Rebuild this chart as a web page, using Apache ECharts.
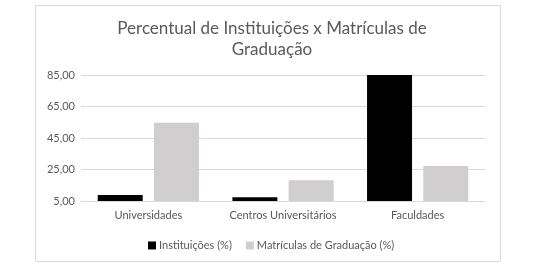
<!DOCTYPE html>
<html>
<head>
<meta charset="utf-8">
<script src="https://cdn.jsdelivr.net/npm/echarts@6/dist/echarts.min.js"></script>
<style>
  html, body { margin: 0; padding: 0; background: #fff; }
  #chart { width: 555px; height: 280px; }
</style>
</head>
<body>
<div id="chart"></div>
<script>
const categories = ["Universidades", "Centros Universitários", "Faculdades"];
const instituicoes = [8.8, 7.4, 85.1];
const matriculas = [54.7, 18.1, 27.3];

const chart = echarts.init(document.getElementById("chart"));
const textColor = "#595959";
const font = "Lato, 'Liberation Sans', sans-serif";

const option = {
  animation: false,
  title: {
    text: "Percentual de Instituições x Matrículas de\nGraduação",
    left: 267,
    textAlign: "center",
    top: 13,
    textStyle: {
      color: textColor,
      fontFamily: font,
      fontWeight: "normal",
      fontSize: 17,
      lineHeight: 21,
    },
  },
  graphic: [
    {
      type: "rect",
      shape: { x: 35.5, y: 5.5, width: 465, height: 256 },
      style: { fill: "none", stroke: "#d9d9d9", lineWidth: 1 },
      silent: true,
    },
  ],
  grid: {
    left: 81,
    right: 70,
    top: 75,
    bottom: 79,
    containLabel: false,
  },
  legend: {
    left: 143,
    top: 235,
    itemWidth: 8,
    itemHeight: 8,
    itemGap: 14,
    icon: "rect",
    textStyle: { color: textColor, fontFamily: font, fontSize: 11, padding: [0, 0, 0, -2] },
    data: ["Instituições (%)", "Matrículas de Graduação (%)"],
  },
  xAxis: {
    type: "category",
    data: categories,
    axisLine: { lineStyle: { color: "#d9d9d9" } },
    axisTick: { show: false },
    axisLabel: { color: textColor, fontFamily: font, fontSize: 11, margin: 9, interval: 0 },
  },
  yAxis: {
    type: "value",
    min: 5,
    max: 85,
    interval: 20,
    axisLine: { show: false },
    axisTick: { show: false },
    splitLine: { lineStyle: { color: "#d9d9d9" } },
    axisLabel: {
      color: textColor,
      fontFamily: font,
      fontSize: 11,
      margin: 6,
      formatter: (v) => v.toFixed(2).replace(".", ","),
    },
  },
  series: [
    {
      name: "Instituições (%)",
      type: "bar",
      data: instituicoes,
      barWidth: 45,
      barGap: "25%",
      itemStyle: { color: "#000000" },
    },
    {
      name: "Matrículas de Graduação (%)",
      type: "bar",
      data: matriculas,
      barWidth: 45,
      itemStyle: { color: "#d0cece" },
    },
  ],
};

chart.setOption(option);
</script>
</body>
</html>
